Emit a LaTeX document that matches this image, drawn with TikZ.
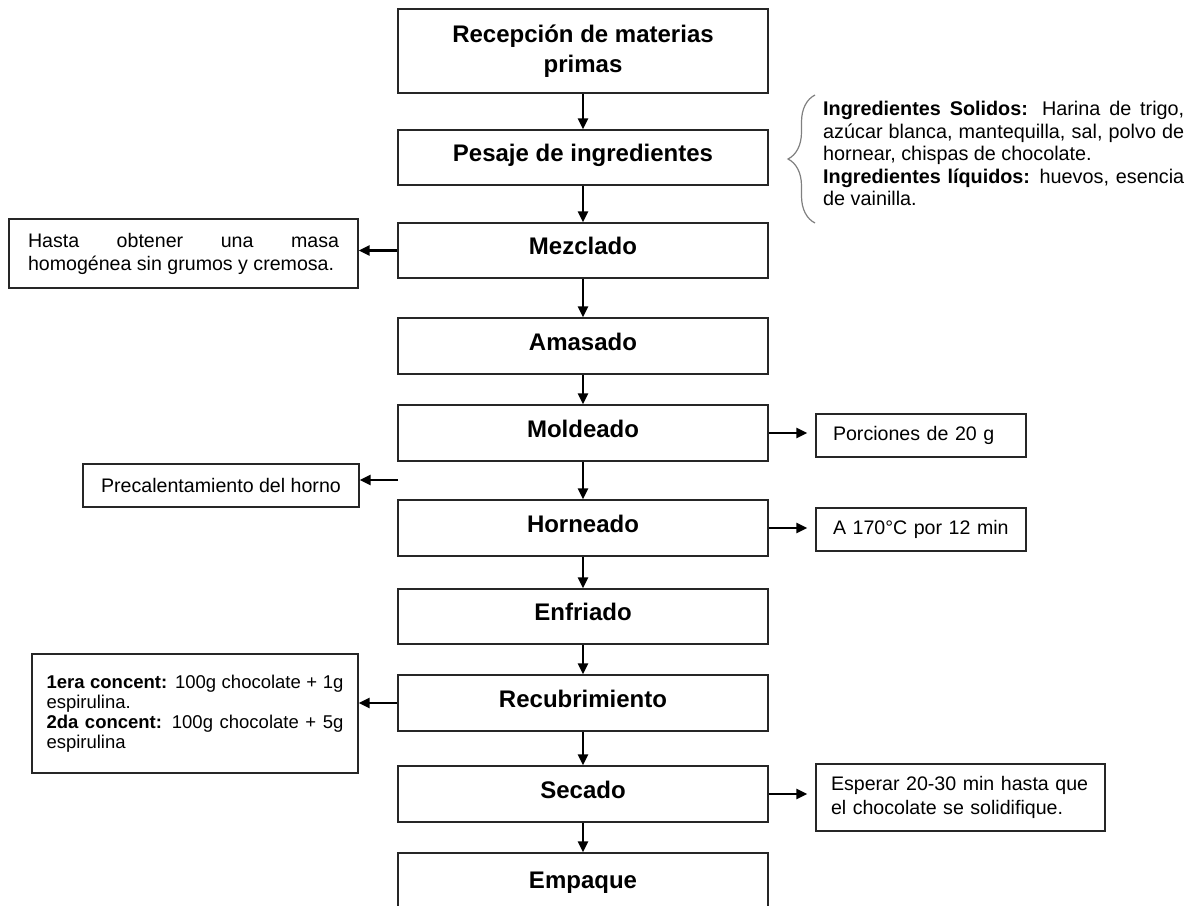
\documentclass[tikz,border=0pt]{standalone}
\usepackage{fontspec}
\setmainfont{Liberation Sans}
\usetikzlibrary{arrows.meta,decorations.pathreplacing}
\hyphenpenalty=10000
\exhyphenpenalty=10000

\begin{document}
\begin{tikzpicture}[x=1pt,y=-1pt,
	caja/.style={draw=black!85,line width=1.3pt,inner sep=0pt},
	etapa/.style={caja,minimum width=370pt,minimum height=55pt,font=\fontsize{24}{30}\selectfont\bfseries,text height=17pt,text depth=9pt},
	nota/.style={caja,font=\fontsize{19.6}{23}\selectfont},
	flecha/.style={line width=2.3pt,-{Triangle[length=11pt,width=10pt]}}]
	\useasboundingbox (0,0) rectangle (1188,905);
	% etapas del proceso
	\node[caja,minimum width=370pt,minimum height=84pt,align=center,font=\fontsize{24}{30}\selectfont\bfseries] (rec) at (583,51) {Recepción de materias\\primas};
	\node[etapa] (pes) at (583,157.5) {Pesaje de ingredientes};
	\node[etapa] (mez) at (583,250.5) {Mezclado};
	\node[etapa,minimum height=56pt] (ama) at (583,346) {Amasado};
	\node[etapa,minimum height=56pt] (mol) at (583,433) {Moldeado};
	\node[etapa,minimum height=56pt] (hor) at (583,528) {Horneado};
	\node[etapa] (enf) at (583,616.5) {Enfriado};
	\node[etapa,minimum height=56pt] (rcb) at (583,703) {Recubrimiento};
	\node[etapa,minimum height=56pt] (sec) at (583,794) {Secado};
	\node[etapa,minimum height=62pt] (emp) at (583,884) {Empaque};
	\foreach \a/\b in {rec/pes,pes/mez,mez/ama,ama/mol,mol/hor,hor/enf,enf/rcb,rcb/sec,sec/emp}
		\draw[flecha] (\a) -- (\b);
	% notas laterales
	\node[nota,text width=311pt,inner xsep=19pt,minimum height=69pt,align=justify] (has) at (183.5,253.5) {Hasta obtener una masa\linebreak homogénea sin grumos y cremosa.};
	\node[nota,minimum width=276pt,minimum height=43pt] (pre) at (221,485.5) {Precalentamiento del horno};
	\node[nota,text width=176pt,inner xsep=17pt,minimum height=43pt,align=left] (por) at (921,435.5) {Porciones de 20 g};
	\node[nota,text width=176pt,inner xsep=17pt,minimum height=43pt,align=left] (tem) at (921,529.5) {A 170°C por 12 min};
	\node[nota,text width=297pt,inner xsep=14.5pt,minimum height=119pt,align=justify,font=\fontsize{18.5}{20}\selectfont] (con) at (195,713.5) {\textbf{1era concent:} 100g chocolate + 1g\linebreak espirulina.\par\textbf{2da concent:} 100g chocolate + 5g\linebreak espirulina};
	\node[nota,text width=265pt,inner xsep=12pt,minimum height=67pt,align=left,font=\fontsize{19.6}{24}\selectfont] (esp) at (960.5,797.5) {\hspace*{3pt}Esperar 20-30 min hasta que\\\hspace*{3pt}el chocolate se solidifique.};
	\node[anchor=north west,inner sep=0pt,text width=361pt,align=justify,font=\fontsize{19.8}{22.5}\selectfont] (ing) at (823,101) {\textbf{Ingredientes Solidos:} Harina de trigo,\linebreak azúcar blanca, mantequilla, sal, polvo de\linebreak hornear, chispas de chocolate.\par\textbf{Ingredientes líquidos:} huevos, esencia\linebreak de vainilla.};
	\draw[gray,line width=1.2pt,decorate,decoration={brace,amplitude=27pt}] (815,223) -- (815,95);
	% flechas laterales
	\draw[flecha] (mez.west) -- (mez.west -| has.east);
	\coordinate (pc) at (398,480);
	\draw[flecha] (pc) -- (pc -| pre.east);
	\draw[flecha] (rcb.west) -- (rcb.west -| con.east);
	\draw[flecha,shorten >=8pt] (mol.east) -- (mol.east -| por.west);
	\draw[flecha,shorten >=8pt] (hor.east) -- (hor.east -| tem.west);
	\draw[flecha,shorten >=8pt] (sec.east) -- (sec.east -| esp.west);
\end{tikzpicture}
\end{document}
